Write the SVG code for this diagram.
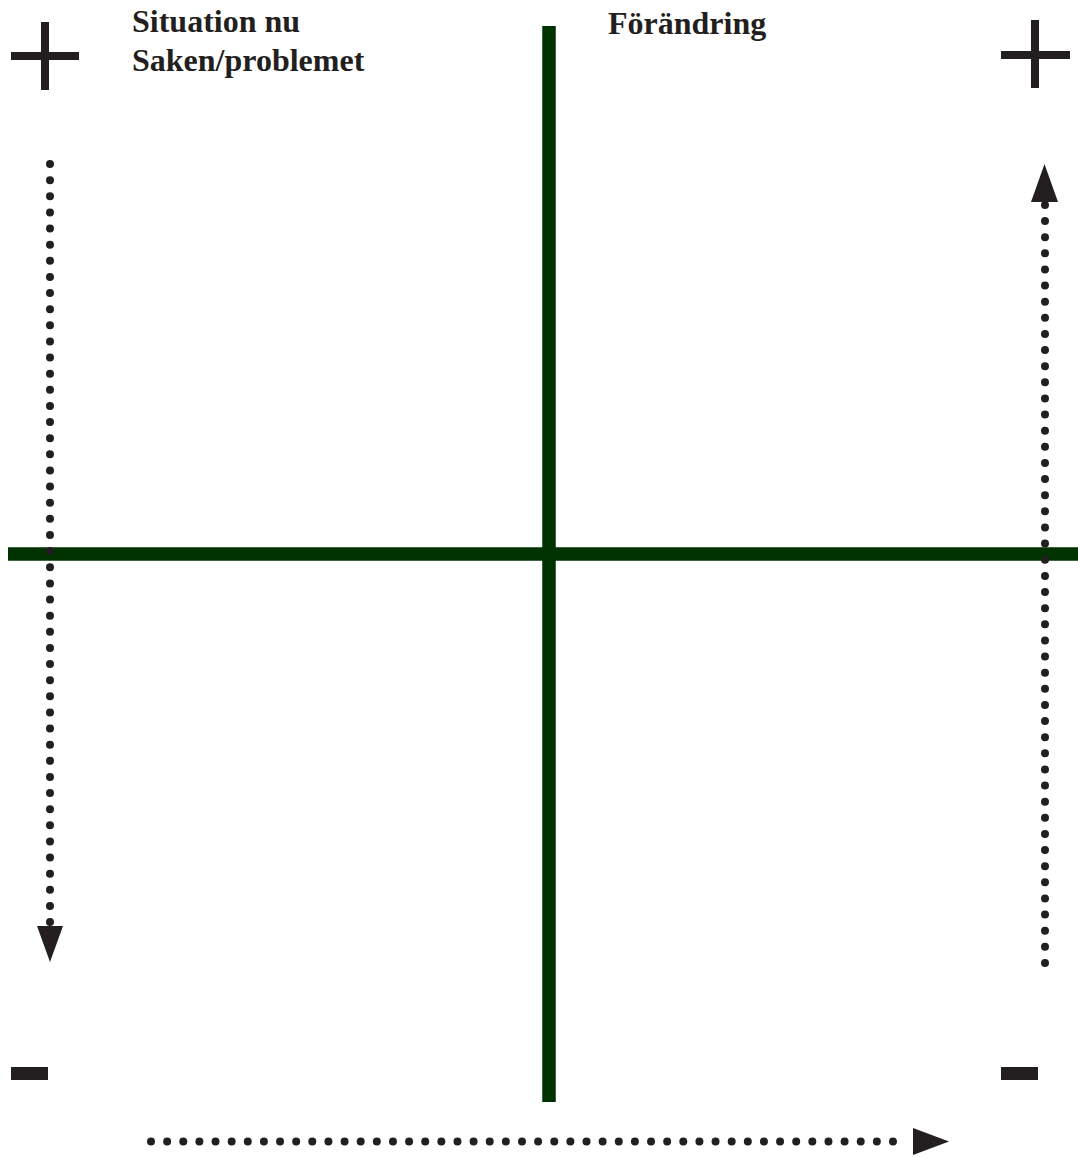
<svg xmlns="http://www.w3.org/2000/svg" width="1078" height="1157" viewBox="0 0 1078 1157">
<style>
.axis{stroke:#003300;stroke-width:13.5;fill:none}
.sign{fill:#231f20}
.dots{stroke:#231f20;stroke-width:8;stroke-linecap:round;stroke-dasharray:0 16.13;fill:none}
.head{fill:#231f20}
.lbl{font-family:"Liberation Serif","Times New Roman",serif;font-weight:bold;font-size:32px;fill:#231f20}
</style>
<rect width="1078" height="1157" fill="#ffffff"/>
<g id="axes">
<line class="axis" x1="549" y1="26" x2="549" y2="1102"/>
<line class="axis" x1="8" y1="554" x2="1078" y2="554"/>
</g>
<g id="plus-left">
<rect class="sign" x="41" y="22" width="8" height="68"/>
<rect class="sign" x="11" y="52" width="68" height="8"/>
</g>
<g id="plus-right">
<rect class="sign" x="1031" y="20" width="8" height="68"/>
<rect class="sign" x="1001" y="51" width="69" height="8"/>
</g>
<g id="minus-left"><rect class="sign" x="11" y="1067" width="37" height="13"/></g>
<g id="minus-right"><rect class="sign" x="1001" y="1067" width="37" height="13"/></g>
<g id="label-situation">
<text class="lbl" x="132" y="32">Situation nu</text>
<text class="lbl" x="132" y="70.5">Saken/problemet</text>
</g>
<g id="label-forandring"><text class="lbl" x="608" y="34">Förändring</text></g>
<g id="connectors">
<line class="dots" x1="50" y1="164" x2="50" y2="923"/>
<polygon class="head" points="37,926 63,926 50,962"/>
<line class="dots" x1="1045" y1="963" x2="1045" y2="204"/>
<polygon class="head" points="1031,202 1058,202 1044.5,164"/>
<line class="dots" x1="151" y1="1141.5" x2="909" y2="1141.5"/>
<polygon class="head" points="913,1128 913,1155 949,1141.5"/>
</g>
</svg>
